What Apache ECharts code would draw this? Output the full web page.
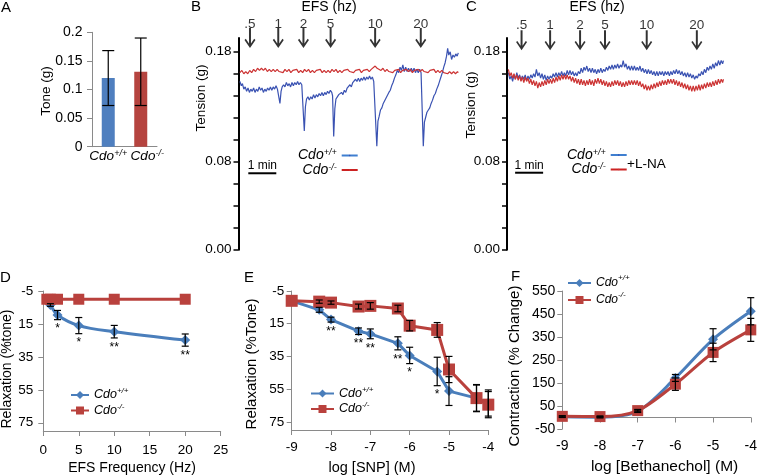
<!DOCTYPE html>
<html><head><meta charset="utf-8">
<script src="https://cdn.jsdelivr.net/npm/echarts@6/dist/echarts.min.js"></script>
<style>html,body{margin:0;padding:0;background:#fff}#c{width:760px;height:476px}</style>
</head><body><div id="c"></div><script>
// ---------------- DATA ----------------
// Panel A
const aCategories = ['Cdo+/+', 'Cdo-/-'];
const aTone = [0.120, 0.131];
const aToneErr = [0.048, 0.059];

// Panels B, C (time in minutes, tension in g)
const efsLabels = ['.5', '1', '2', '5', '10', '20'];
const bArrowTimes = [0.41, 1.42, 2.32, 3.29, 4.88, 6.51];
const cArrowTimes = [0.52, 1.54, 2.61, 3.50, 4.99, 6.78];
const tensionTicks = [0, 0.02, 0.04, 0.06, 0.08, 0.10, 0.12, 0.14, 0.16, 0.18];
const tensionLabels = [0, 0.08, 0.18];
const bScaleBar = [0.35, 1.35, 0.0695];
const cScaleBar = [0.29, 1.29, 0.0700];

const bWT = [[0.05,0.153],[0.10,0.149],[0.14,0.151],[0.19,0.146],[0.24,0.148],[0.29,0.144],[0.34,0.147],[0.39,0.143],[0.44,0.146],[0.49,0.144],[0.54,0.147],[0.59,0.143],[0.64,0.146],[0.69,0.144],[0.74,0.148],[0.79,0.145],[0.84,0.147],[0.89,0.143],[0.94,0.146],[0.99,0.144],[1.04,0.147],[1.09,0.145],[1.14,0.148],[1.19,0.145],[1.24,0.148],[1.29,0.146],[1.34,0.149],[1.39,0.146],[1.44,0.146],[1.48,0.133],[1.52,0.144],[1.56,0.148],[1.61,0.150],[1.66,0.148],[1.71,0.152],[1.76,0.149],[1.81,0.151],[1.86,0.148],[1.91,0.152],[1.96,0.149],[2.01,0.152],[2.06,0.150],[2.11,0.153],[2.16,0.150],[2.21,0.152],[2.26,0.150],[2.31,0.149],[2.35,0.108],[2.39,0.130],[2.43,0.137],[2.48,0.139],[2.53,0.136],[2.58,0.139],[2.63,0.137],[2.68,0.141],[2.73,0.138],[2.78,0.141],[2.83,0.139],[2.88,0.142],[2.93,0.140],[2.98,0.143],[3.03,0.140],[3.08,0.143],[3.13,0.141],[3.18,0.144],[3.23,0.142],[3.28,0.145],[3.33,0.143],[3.36,0.140],[3.40,0.103],[3.44,0.128],[3.48,0.137],[3.53,0.139],[3.58,0.141],[3.63,0.140],[3.68,0.143],[3.73,0.141],[3.78,0.145],[3.83,0.143],[3.88,0.147],[3.93,0.146],[3.98,0.150],[4.03,0.148],[4.08,0.152],[4.13,0.151],[4.18,0.155],[4.23,0.153],[4.28,0.156],[4.33,0.153],[4.38,0.156],[4.43,0.154],[4.48,0.157],[4.53,0.154],[4.58,0.157],[4.63,0.155],[4.68,0.158],[4.73,0.155],[4.78,0.157],[4.83,0.153],[4.88,0.154],[4.94,0.094],[4.98,0.117],[5.02,0.121],[5.07,0.127],[5.12,0.129],[5.17,0.133],[5.22,0.134],[5.27,0.138],[5.32,0.139],[5.37,0.143],[5.42,0.145],[5.47,0.149],[5.52,0.152],[5.57,0.156],[5.62,0.159],[5.67,0.163],[5.72,0.161],[5.77,0.166],[5.82,0.163],[5.87,0.168],[5.92,0.162],[5.97,0.166],[6.02,0.162],[6.07,0.165],[6.12,0.162],[6.17,0.165],[6.22,0.162],[6.27,0.165],[6.32,0.161],[6.37,0.164],[6.42,0.161],[6.47,0.164],[6.52,0.161],[6.56,0.160],[6.60,0.094],[6.64,0.116],[6.68,0.120],[6.73,0.125],[6.78,0.127],[6.83,0.129],[6.88,0.133],[6.93,0.136],[6.98,0.140],[7.03,0.142],[7.08,0.146],[7.13,0.149],[7.18,0.153],[7.23,0.157],[7.28,0.161],[7.33,0.166],[7.38,0.170],[7.43,0.176],[7.47,0.183],[7.51,0.177],[7.56,0.180],[7.61,0.173],[7.66,0.177],[7.71,0.175],[7.76,0.178],[7.81,0.176],[7.85,0.179]];

const bKO = [[0.05,0.161],[0.12,0.163],[0.19,0.160],[0.26,0.162],[0.33,0.160],[0.40,0.163],[0.47,0.161],[0.54,0.164],[0.61,0.162],[0.68,0.165],[0.75,0.163],[0.82,0.165],[0.89,0.163],[0.96,0.165],[1.03,0.162],[1.10,0.164],[1.17,0.162],[1.24,0.164],[1.31,0.162],[1.38,0.164],[1.45,0.162],[1.52,0.163],[1.59,0.161],[1.66,0.164],[1.73,0.162],[1.80,0.164],[1.87,0.161],[1.94,0.163],[2.01,0.162],[2.08,0.164],[2.15,0.161],[2.22,0.163],[2.29,0.161],[2.36,0.164],[2.43,0.162],[2.50,0.164],[2.57,0.161],[2.64,0.163],[2.71,0.161],[2.78,0.163],[2.85,0.162],[2.92,0.164],[2.99,0.161],[3.06,0.163],[3.13,0.161],[3.20,0.163],[3.27,0.161],[3.34,0.164],[3.41,0.162],[3.48,0.164],[3.55,0.161],[3.62,0.163],[3.69,0.161],[3.76,0.163],[3.83,0.162],[3.90,0.164],[3.97,0.162],[4.04,0.163],[4.11,0.161],[4.18,0.163],[4.25,0.162],[4.32,0.164],[4.39,0.161],[4.46,0.163],[4.53,0.162],[4.60,0.164],[4.67,0.162],[4.74,0.164],[4.81,0.163],[4.88,0.167],[4.95,0.165],[5.02,0.166],[5.09,0.163],[5.16,0.165],[5.23,0.162],[5.30,0.164],[5.37,0.162],[5.44,0.163],[5.51,0.161],[5.58,0.163],[5.65,0.162],[5.72,0.164],[5.79,0.161],[5.86,0.163],[5.93,0.162],[6.00,0.164],[6.07,0.162],[6.14,0.164],[6.21,0.161],[6.28,0.163],[6.35,0.162],[6.42,0.164],[6.49,0.162],[6.56,0.164],[6.63,0.162],[6.70,0.163],[6.77,0.161],[6.84,0.163],[6.91,0.162],[6.98,0.164],[7.05,0.161],[7.12,0.163],[7.19,0.161],[7.26,0.163],[7.33,0.161],[7.40,0.162],[7.47,0.160],[7.54,0.162],[7.61,0.160],[7.68,0.162],[7.75,0.160],[7.82,0.162],[7.85,0.161]];

const cWT = [[0.05,0.161],[0.10,0.155],[0.15,0.158],[0.20,0.153],[0.25,0.159],[0.30,0.155],[0.35,0.161],[0.40,0.156],[0.45,0.159],[0.50,0.154],[0.55,0.158],[0.60,0.155],[0.65,0.159],[0.70,0.154],[0.75,0.158],[0.80,0.155],[0.85,0.159],[0.90,0.156],[0.95,0.160],[1.00,0.157],[1.05,0.164],[1.10,0.158],[1.15,0.161],[1.20,0.156],[1.25,0.160],[1.30,0.155],[1.35,0.159],[1.40,0.154],[1.45,0.158],[1.50,0.155],[1.55,0.158],[1.60,0.156],[1.65,0.160],[1.70,0.157],[1.75,0.161],[1.80,0.157],[1.85,0.161],[1.90,0.158],[1.95,0.162],[2.00,0.158],[2.05,0.161],[2.10,0.158],[2.15,0.163],[2.20,0.159],[2.25,0.163],[2.30,0.159],[2.35,0.162],[2.40,0.158],[2.45,0.161],[2.50,0.158],[2.55,0.162],[2.60,0.160],[2.65,0.165],[2.70,0.161],[2.75,0.166],[2.80,0.163],[2.85,0.167],[2.90,0.162],[2.95,0.165],[3.00,0.161],[3.05,0.165],[3.10,0.161],[3.15,0.164],[3.20,0.160],[3.25,0.164],[3.30,0.161],[3.35,0.165],[3.40,0.161],[3.45,0.164],[3.50,0.162],[3.55,0.166],[3.60,0.163],[3.65,0.167],[3.70,0.164],[3.75,0.168],[3.80,0.164],[3.85,0.168],[3.90,0.165],[3.95,0.169],[4.00,0.165],[4.05,0.168],[4.10,0.166],[4.15,0.172],[4.20,0.166],[4.25,0.169],[4.30,0.164],[4.35,0.167],[4.40,0.163],[4.45,0.167],[4.50,0.163],[4.55,0.167],[4.60,0.163],[4.65,0.166],[4.70,0.163],[4.75,0.167],[4.80,0.162],[4.85,0.165],[4.90,0.161],[4.95,0.164],[5.00,0.160],[5.05,0.164],[5.10,0.160],[5.15,0.163],[5.20,0.159],[5.25,0.162],[5.30,0.158],[5.35,0.162],[5.40,0.158],[5.45,0.162],[5.50,0.159],[5.55,0.162],[5.60,0.158],[5.65,0.162],[5.70,0.159],[5.75,0.162],[5.80,0.158],[5.85,0.162],[5.90,0.159],[5.95,0.163],[6.00,0.160],[6.05,0.164],[6.10,0.160],[6.15,0.163],[6.20,0.159],[6.25,0.162],[6.30,0.158],[6.35,0.161],[6.40,0.157],[6.45,0.161],[6.50,0.157],[6.55,0.160],[6.60,0.156],[6.65,0.159],[6.70,0.155],[6.75,0.158],[6.80,0.156],[6.85,0.160],[6.90,0.158],[6.95,0.162],[7.00,0.159],[7.05,0.164],[7.10,0.161],[7.15,0.166],[7.20,0.163],[7.25,0.167],[7.30,0.164],[7.35,0.169],[7.40,0.165],[7.45,0.170],[7.50,0.167],[7.55,0.172],[7.60,0.168],[7.65,0.172],[7.70,0.169],[7.73,0.172]];

const cKO = [[0.05,0.164],[0.10,0.158],[0.15,0.161],[0.20,0.156],[0.25,0.160],[0.30,0.155],[0.35,0.159],[0.40,0.154],[0.45,0.158],[0.50,0.153],[0.55,0.157],[0.60,0.152],[0.65,0.157],[0.70,0.153],[0.75,0.156],[0.80,0.151],[0.85,0.155],[0.90,0.150],[0.95,0.154],[1.00,0.149],[1.05,0.153],[1.10,0.147],[1.15,0.152],[1.20,0.148],[1.25,0.153],[1.30,0.149],[1.35,0.154],[1.40,0.150],[1.45,0.155],[1.50,0.151],[1.55,0.155],[1.60,0.151],[1.65,0.156],[1.70,0.152],[1.75,0.157],[1.80,0.153],[1.85,0.158],[1.90,0.154],[1.95,0.159],[2.00,0.155],[2.05,0.159],[2.10,0.155],[2.15,0.159],[2.20,0.155],[2.25,0.158],[2.30,0.153],[2.35,0.157],[2.40,0.152],[2.45,0.156],[2.50,0.151],[2.55,0.155],[2.60,0.150],[2.65,0.155],[2.70,0.150],[2.75,0.154],[2.80,0.149],[2.85,0.154],[2.90,0.150],[2.95,0.155],[3.00,0.150],[3.05,0.154],[3.10,0.149],[3.15,0.155],[3.20,0.151],[3.25,0.156],[3.30,0.151],[3.35,0.155],[3.40,0.150],[3.45,0.154],[3.50,0.149],[3.55,0.153],[3.60,0.148],[3.65,0.152],[3.70,0.148],[3.75,0.153],[3.80,0.149],[3.85,0.154],[3.90,0.150],[3.95,0.154],[4.00,0.149],[4.05,0.153],[4.10,0.148],[4.15,0.152],[4.20,0.148],[4.25,0.153],[4.30,0.149],[4.35,0.154],[4.40,0.150],[4.45,0.154],[4.50,0.150],[4.55,0.154],[4.60,0.150],[4.65,0.154],[4.70,0.149],[4.75,0.153],[4.80,0.148],[4.85,0.151],[4.90,0.146],[4.95,0.150],[5.00,0.145],[5.05,0.149],[5.10,0.145],[5.15,0.150],[5.20,0.146],[5.25,0.151],[5.30,0.147],[5.35,0.152],[5.40,0.148],[5.45,0.153],[5.50,0.149],[5.55,0.154],[5.60,0.150],[5.65,0.154],[5.70,0.150],[5.75,0.155],[5.80,0.151],[5.85,0.155],[5.90,0.151],[5.95,0.155],[6.00,0.150],[6.05,0.154],[6.10,0.149],[6.15,0.153],[6.20,0.148],[6.25,0.152],[6.30,0.147],[6.35,0.151],[6.40,0.146],[6.45,0.150],[6.50,0.145],[6.55,0.149],[6.60,0.144],[6.65,0.149],[6.70,0.144],[6.75,0.149],[6.80,0.145],[6.85,0.150],[6.90,0.145],[6.95,0.150],[7.00,0.146],[7.05,0.151],[7.10,0.147],[7.15,0.152],[7.20,0.148],[7.25,0.152],[7.30,0.148],[7.35,0.153],[7.40,0.149],[7.45,0.154],[7.50,0.150],[7.55,0.155],[7.60,0.151],[7.65,0.155],[7.70,0.152],[7.73,0.155]];

// Panel D
const dFreq = [0.5, 1, 2, 5, 10, 20];
const dWT = [0.5, 3.5, 9.6, 16.0, 19.7, 24.8];
const dWTErr = [0, 0.8, 2.8, 4.9, 3.8, 3.7];
const dKO = [0, 0, 0, 0, 0, 0];
const dStars = ['', '', '*', '*', '**', '**'];
const relaxTicks = [-5, 15, 35, 55, 75];

// Panel E
const eLogSNP = [-9, -8.3, -8, -7.3, -7, -6.3, -6, -5.3, -5, -4.3, -4];
const eWT = [1, 6.5, 12.5, 19.6, 21.2, 27.0, 34.4, 44.2, 56.2, 60.5, 63.5];
const eWTErr = [0, 1.5, 1.5, 2, 3, 4, 5, 8.7, 8.8, 8, 8];
const eKO = [1, 1.5, 2.1, 4.5, 4.1, 5.7, 16.2, 18.8, 43.0, 60.5, 64.5];
const eKOErr = [0, 1, 1, 1.5, 2, 2, 3.2, 4.5, 8, 8.3, 8];
const eStars = ['', '', '**', '**', '**', '**', '*', '*', '', '', ''];

// Panel F
const fLogBeth = [-9, -8, -7, -6, -5, -4];
const fWT = [3, 1, 27, 172, 340, 462];
const fWTErr = [3, 3, 5, 15, 46, 59];
const fKO = [5, 4, 30, 145, 283, 381];
const fKOErr = [3, 3, 5, 27, 40, 50];
const contractionTicks = [-50, 50, 150, 250, 350, 450, 550];

// ---------------- STYLE / BUILD ----------------
const FONT = '"Liberation Sans", Arial, Helvetica, sans-serif';
const BLUE = '#4a7ebb', RED = '#b9413d';
const BAR_BLUE = '#4f7fbf', BAR_RED = '#b5443f';
const TR_BLUE = '#3a52b2', TR_RED = '#cc3333';
const GRAY = '#8a8a8a';
const ARROW = 'path://M4.1,0 L5.9,0 L5.9,15.2 L8.8,10.6 L10,11.6 L5,19.5 L0,11.6 L1.2,10.6 L4.1,15.2 Z';

function supName(n) { return n.indexOf('+') >= 0 ? '{i|Cdo}{s|+/+}' : '{i|Cdo}{s|-/-}'; }
function rich(size, supSize, lh) {
  return {
    i: { fontStyle: 'italic', fontSize: size, fontFamily: FONT, color: '#000', lineHeight: lh },
    s: { fontStyle: 'italic', fontSize: supSize, fontFamily: FONT, color: '#000', verticalAlign: 'top', lineHeight: supSize + 1 },
    p: { width: 13, lineHeight: lh }
  };
}
function pairs(xs, ys) { return xs.map((x, i) => [x, ys[i]]); }

function errSeries(gi, xs, ys, es, cap) {
  return {
    type: 'custom', xAxisIndex: gi, yAxisIndex: gi, z: 5, silent: true,
    data: xs.map((x, i) => [x, ys[i] - es[i], ys[i] + es[i]]),
    encode: { x: 0, y: [1, 2] },
    renderItem: (p, api) => {
      const lo = api.coord([api.value(0), api.value(1)]);
      const hi = api.coord([api.value(0), api.value(2)]);
      if (Math.abs(lo[1] - hi[1]) < 1) return null;
      const h = cap / 2, st = { stroke: '#000', lineWidth: 1.2 };
      return { type: 'group', children: [
        { type: 'line', shape: { x1: lo[0], y1: lo[1], x2: hi[0], y2: hi[1] }, style: st },
        { type: 'line', shape: { x1: lo[0] - h, y1: lo[1], x2: lo[0] + h, y2: lo[1] }, style: st },
        { type: 'line', shape: { x1: hi[0] - h, y1: hi[1], x2: hi[0] + h, y2: hi[1] }, style: st }
      ]};
    }
  };
}
function starSeries(gi, xs, ys, es, stars) {
  return {
    type: 'custom', xAxisIndex: gi, yAxisIndex: gi, z: 6, silent: true,
    data: xs.map((x, i) => [x, ys[i] + es[i]]),
    encode: { x: 0, y: 1 },
    renderItem: (p, api) => {
      const s = stars[p.dataIndex];
      if (!s) return null;
      const pt = api.coord([api.value(0), api.value(1)]);
      return { type: 'text', x: pt[0], y: pt[1] + 3.5,
        style: { text: s, fontSize: 12, fontFamily: FONT, fill: '#000', align: 'center', verticalAlign: 'top' } };
    }
  };
}
function arrowSeries(gi, times, level, labelOffset) {
  return {
    type: 'scatter', xAxisIndex: gi, yAxisIndex: gi, clip: false, silent: true, z: 6,
    symbol: ARROW, symbolSize: [11, 20], itemStyle: { color: '#000' },
    data: times.map(t => [t, level]),
    label: { show: true, position: 'inside', offset: [0, labelOffset], color: '#000',
      fontSize: 13.5, fontFamily: FONT, formatter: p => efsLabels[p.dataIndex] }
  };
}
function scaleBarSeries(gi, bar) {
  return {
    type: 'custom', xAxisIndex: gi, yAxisIndex: gi, silent: true, z: 6,
    data: [bar], encode: { x: [0, 1], y: 2 },
    renderItem: (p, api) => {
      const a = api.coord([api.value(0), api.value(2)]);
      const b = api.coord([api.value(1), api.value(2)]);
      return { type: 'group', children: [
        { type: 'line', shape: { x1: a[0], y1: a[1], x2: b[0], y2: b[1] }, style: { stroke: '#000', lineWidth: 2 } },
        { type: 'text', x: (a[0] + b[0]) / 2, y: a[1] - 1.5,
          style: { text: '1 min', fontSize: 12, fontFamily: FONT, fill: '#000', align: 'center', verticalAlign: 'bottom' } }
      ]};
    }
  };
}
function traceY(gi) {
  return {
    gridIndex: gi, type: 'value', min: 0, max: 0.1925,
    axisLine: { show: true, onZero: false, lineStyle: { color: '#000', width: 2 } },
    axisTick: { show: true, length: 5, customValues: tensionTicks, lineStyle: { color: '#000', width: 1.5 } },
    axisLabel: { customValues: tensionLabels, formatter: v => v.toFixed(2), fontSize: 13.5, fontFamily: FONT, color: '#000', margin: 7 },
    splitLine: { show: false }
  };
}
function relaxY(gi, margin, fs) {
  return {
    gridIndex: gi, type: 'value', inverse: true, min: -5, max: 80,
    axisLine: { show: true, onZero: false, lineStyle: { color: GRAY, width: 1 } },
    axisTick: { show: true, length: 5, customValues: relaxTicks, lineStyle: { color: GRAY } },
    axisLabel: { customValues: relaxTicks, fontSize: fs, fontFamily: FONT, color: '#000', margin: margin },
    splitLine: { show: false }
  };
}
function lowerX(gi, min, max, interval, name, margin, fs, nfs, pad, onZero) {
  return {
    gridIndex: gi, type: 'value', min: min, max: max, interval: interval,
    axisLine: { show: true, onZero: onZero, lineStyle: { color: GRAY, width: 1 } },
    axisTick: { show: true, length: 5, lineStyle: { color: GRAY } },
    axisLabel: { fontSize: fs, fontFamily: FONT, color: '#000', margin: margin },
    splitLine: { show: false },
    name: name, nameLocation: 'middle', nameGap: 30,
    nameTextStyle: { fontSize: nfs, fontFamily: FONT, color: '#000', padding: pad }
  };
}
function titleText(t, left, top, extra) {
  return Object.assign({ text: t, left: left, top: top, padding: 0,
    textStyle: { fontSize: 15, fontWeight: 'normal', fontFamily: FONT, color: '#000' } }, extra || {});
}
function yTitle(t, x, y, fs) {
  return { type: 'text', x: x, y: y, rotation: Math.PI / 2, silent: true,
    style: { text: t, fontSize: fs, fontFamily: FONT, fill: '#000', align: 'center', verticalAlign: 'middle',
      textAlign: 'center', textVerticalAlign: 'middle' } };
}

const option = {
  animation: false,
  backgroundColor: '#fff',
  textStyle: { fontFamily: FONT },
  title: [
    titleText('A', 1, 0), titleText('B', 191, -1), titleText('C', 466, -1),
    titleText('D', 0, 270), titleText('E', 244, 270), titleText('F', 511, 269),
    { text: 'EFS (hz)', left: 329, top: 0, textAlign: 'center', padding: 0,
      textStyle: { fontSize: 14, fontWeight: 'normal', fontFamily: FONT, color: '#000' } },
    { text: 'EFS (hz)', left: 597, top: 0, textAlign: 'center', padding: 0,
      textStyle: { fontSize: 14, fontWeight: 'normal', fontFamily: FONT, color: '#000' } }
  ],
  grid: [
    { left: 92, top: 32.3, width: 65, height: 114.4 },
    { left: 238.5, top: 38, width: 229.6, height: 211.7 },
    { left: 507, top: 38, width: 229.6, height: 211.7 },
    { left: 43.3, top: 291, width: 177.4, height: 140 },
    { left: 291.7, top: 291, width: 196.6, height: 140.6 },
    { left: 562.3, top: 291, width: 192, height: 152.3 }
  ],
  xAxis: [
    { gridIndex: 0, type: 'category', data: aCategories,
      axisLine: { show: true, lineStyle: { color: GRAY } }, axisTick: { show: false },
      axisLabel: { interval: 0, margin: 2, formatter: (v, i) => (i === 1 ? '{p|}' : '') + supName(v), rich: rich(13.5, 9, 16) } },
    { gridIndex: 1, type: 'value', min: 0, max: 8.2, show: false },
    { gridIndex: 2, type: 'value', min: 0, max: 8.2, show: false },
    lowerX(3, 0, 25, 5, 'EFS Frequency (Hz)', 12, 13.5, 14, [0, 0, 0, 0], false),
    lowerX(4, -9, -4, 1, 'log [SNP] (M)', 10, 13.5, 14.5, [0, 36, 0, 0], false),
    lowerX(5, -9, -4, 1, 'log [Bethanechol] (M)', 10, 14, 15.5, [0, 0, 0, 16], true)
  ],
  yAxis: [
    { gridIndex: 0, type: 'value', min: 0, max: 0.2, interval: 0.05,
      axisLine: { show: true, lineStyle: { color: GRAY } },
      axisTick: { show: true, length: 5, lineStyle: { color: GRAY } },
      axisLabel: { fontSize: 14, fontFamily: FONT, color: '#000', margin: 9.5 },
      splitLine: { show: false } },
    traceY(1), traceY(2),
    relaxY(3, 10, 13.5), relaxY(4, 7.5, 13.5),
    { gridIndex: 5, type: 'value', min: -50, max: 550,
      axisLine: { show: true, onZero: false, lineStyle: { color: GRAY } },
      axisTick: { show: true, length: 5, customValues: contractionTicks, lineStyle: { color: GRAY } },
      axisLabel: { customValues: contractionTicks, fontSize: 14, fontFamily: FONT, color: '#000', margin: 7 },
      splitLine: { show: false } }
  ],
  legend: [
    { data: [{ name: 'bWT', lineStyle: { color: '#3f7fd0' } }, { name: 'bKO', lineStyle: { color: '#cc2222' } }],
      left: 298, top: 148, orient: 'vertical', align: 'right', itemWidth: 16, itemHeight: 2, itemGap: 0, padding: 0,
      lineStyle: { width: 2 }, selectedMode: false, formatter: n => supName(n === 'bWT' ? '+' : '-'),
      textStyle: { rich: rich(14, 9, 15) } },
    { data: [{ name: 'cWT', lineStyle: { color: '#3f7fd0' } }, { name: 'cKO', lineStyle: { color: '#cc2222' } }],
      left: 567, top: 147.5, orient: 'vertical', align: 'right', itemWidth: 16, itemHeight: 2, itemGap: 0, padding: 0,
      lineStyle: { width: 2 }, selectedMode: false, formatter: n => supName(n === 'cWT' ? '+' : '-'),
      textStyle: { rich: rich(14, 9, 15) } },
    { data: ['Cdo+/+', 'Cdo-/-'], left: 70, top: 387, orient: 'vertical', itemWidth: 18, itemHeight: 10, itemGap: 1,
      padding: 0, selectedMode: false, formatter: supName, textStyle: { rich: rich(12.5, 8, 16) } },
    { data: ['Cdo+/+', 'Cdo-/-'], left: 310, top: 385.5, orient: 'vertical', itemWidth: 23, itemHeight: 10, itemGap: 1,
      padding: 0, selectedMode: false, formatter: supName, textStyle: { rich: rich(12.5, 8, 16) } },
    { data: ['Cdo+/+', 'Cdo-/-'], left: 567, top: 274, orient: 'vertical', itemWidth: 23, itemHeight: 10, itemGap: 2,
      padding: 0, selectedMode: false, formatter: supName, textStyle: { rich: rich(12, 8, 18) } }
  ],
  graphic: [
    yTitle('Tone (g)', 46.7, 91, 13.5),
    yTitle('Tension (g)', 201, 98, 13.5),
    yTitle('Tension (g)', 471, 105, 13.5),
    yTitle('Relaxation (%tone)', 7, 369, 14),
    yTitle('Relaxation (%Tone)', 252.3, 364, 15),
    yTitle('Contraction (% Change)', 515, 366, 15),
    { type: 'text', x: 627, y: 164, silent: true,
      style: { text: '+L-NA', fontSize: 13.5, fontFamily: FONT, fill: '#000', align: 'left', verticalAlign: 'middle',
        textAlign: 'left', textVerticalAlign: 'middle' } }
  ],
  series: [
    // A
    { type: 'bar', name: 'Tone', xAxisIndex: 0, yAxisIndex: 0, barWidth: 13, silent: true,
      data: aTone.map((v, i) => ({ value: v, itemStyle: { color: i === 0 ? BAR_BLUE : BAR_RED } })) },
    errSeries(0, [0, 1], aTone, aToneErr, 12),
    // B
    { type: 'line', name: 'bWT', xAxisIndex: 1, yAxisIndex: 1, data: bWT, symbol: 'none', lineStyle: { color: TR_BLUE, width: 1.2 }, itemStyle: { color: TR_BLUE } },
    { type: 'line', name: 'bKO', xAxisIndex: 1, yAxisIndex: 1, data: bKO, symbol: 'none', lineStyle: { color: TR_RED, width: 1.2 }, itemStyle: { color: TR_RED } },
    arrowSeries(1, bArrowTimes, 0.1925, -14),
    scaleBarSeries(1, bScaleBar),
    // C
    { type: 'line', name: 'cWT', xAxisIndex: 2, yAxisIndex: 2, data: cWT, symbol: 'none', lineStyle: { color: TR_BLUE, width: 1.2 }, itemStyle: { color: TR_BLUE } },
    { type: 'line', name: 'cKO', xAxisIndex: 2, yAxisIndex: 2, data: cKO, symbol: 'none', lineStyle: { color: TR_RED, width: 1.2 }, itemStyle: { color: TR_RED } },
    arrowSeries(2, cArrowTimes, 0.1905, -15),
    scaleBarSeries(2, cScaleBar),
    // D
    { type: 'line', name: 'Cdo+/+', xAxisIndex: 3, yAxisIndex: 3, data: pairs(dFreq, dWT), smooth: 0.35,
      symbol: 'diamond', symbolSize: 10, lineStyle: { color: BLUE, width: 3 }, itemStyle: { color: BLUE } },
    { type: 'line', name: 'Cdo-/-', xAxisIndex: 3, yAxisIndex: 3, data: pairs(dFreq, dKO),
      symbol: 'rect', symbolSize: 11, lineStyle: { color: RED, width: 3 }, itemStyle: { color: RED } },
    errSeries(3, dFreq, dWT, dWTErr, 7),
    starSeries(3, dFreq, dWT, dWTErr, dStars),
    // E
    { type: 'line', name: 'Cdo+/+', xAxisIndex: 4, yAxisIndex: 4, data: pairs(eLogSNP, eWT),
      symbol: 'diamond', symbolSize: 10, lineStyle: { color: BLUE, width: 3 }, itemStyle: { color: BLUE } },
    { type: 'line', name: 'Cdo-/-', xAxisIndex: 4, yAxisIndex: 4, data: pairs(eLogSNP, eKO),
      symbol: 'rect', symbolSize: 12, lineStyle: { color: RED, width: 3 }, itemStyle: { color: RED } },
    errSeries(4, eLogSNP, eWT, eWTErr, 7),
    errSeries(4, eLogSNP, eKO, eKOErr, 7),
    starSeries(4, eLogSNP, eWT, eWTErr, eStars),
    // F
    { type: 'line', name: 'Cdo+/+', xAxisIndex: 5, yAxisIndex: 5, data: pairs(fLogBeth, fWT), smooth: 0.3,
      symbol: 'diamond', symbolSize: 10, lineStyle: { color: BLUE, width: 3 }, itemStyle: { color: BLUE } },
    { type: 'line', name: 'Cdo-/-', xAxisIndex: 5, yAxisIndex: 5, data: pairs(fLogBeth, fKO), smooth: 0.3,
      symbol: 'rect', symbolSize: 11, lineStyle: { color: RED, width: 3 }, itemStyle: { color: RED } },
    errSeries(5, fLogBeth, fWT, fWTErr, 7),
    errSeries(5, fLogBeth, fKO, fKOErr, 7)
  ]
};

const chart = echarts.init(document.getElementById('c'), null, { renderer: 'canvas', width: 760, height: 476 });
chart.setOption(option);
</script></body></html>
